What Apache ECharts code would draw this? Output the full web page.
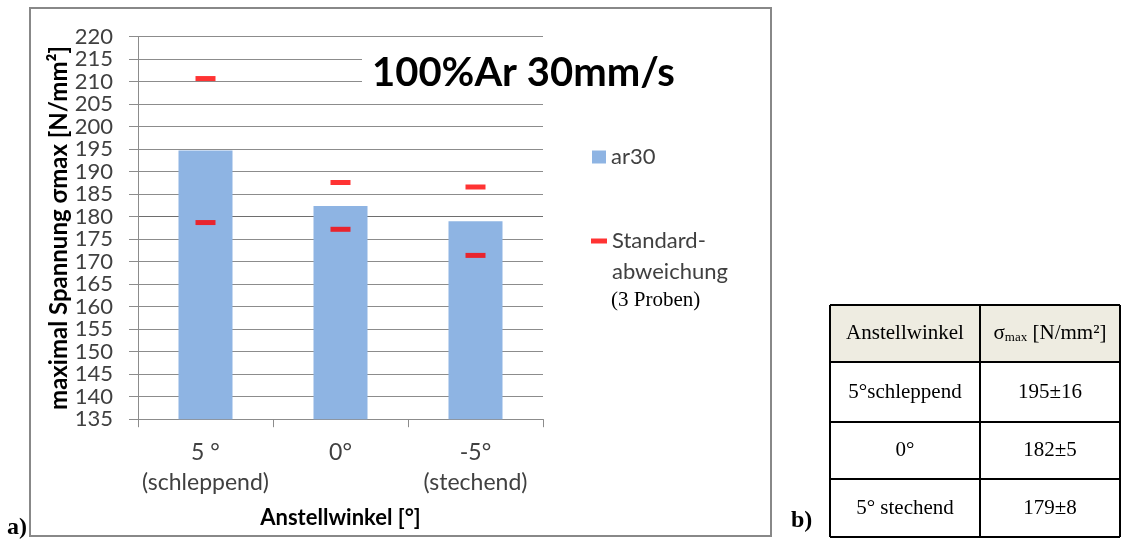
<!DOCTYPE html>
<html>
<head>
<meta charset="utf-8">
<script src="https://cdn.jsdelivr.net/npm/echarts@6/dist/echarts.min.js"></script>
<style>
  html, body { margin: 0; padding: 0; background: #fff; }
  #chart { width: 1121px; height: 540px; }
</style>
</head>
<body>
<div id="chart"></div>
<script>
// Anstellwinkel categories and measured maximum stress (mean of 3 samples)
const categories = ['5 °\n(schleppend)', '0°', '-5°\n(stechend)'];
const meanValues = [194.7, 182.4, 179.0];
const stdDevs = [16.0, 5.2, 7.6];

// value axis range
const yMin = 135;
const yMax = 220;
const yStep = 5;

// summary table
const tableHeader = ['Anstellwinkel', 'σmax [N/mm²]'];
const tableLabels = ['5°schleppend', '0°', '5° stechend'];

const textFont = 'Lato, "Open Sans", sans-serif';
const serifFont = '"Liberation Serif", "DejaVu Serif", serif';

// red dashes at mean ± standard deviation
const errorPoints = [];
meanValues.forEach(function (m, i) {
  errorPoints.push([i, +(m + stdDevs[i]).toFixed(2)]);
  errorPoints.push([i, +(m - stdDevs[i]).toFixed(2)]);
});

// grid line colours; the 180 line is drawn darker
const lineCount = Math.round((yMax - yMin) / yStep) + 1;
const splitColors = [];
for (let k = 0; k < lineCount; k++) {
  splitColors.push(yMin + k * yStep === 180 ? '#6e6e6e' : '#8c8c8c');
}

// table graphic
const tX = 830, tRight = 1120, tMid = 980;
const rowEdges = [305, 362, 422, 479, 537];
const tableEls = [];
tableEls.push({ type: 'rect', shape: { x: tX, y: rowEdges[0], width: tRight - tX, height: rowEdges[1] - rowEdges[0] },
  style: { fill: '#EEECE1' } });
for (let r = 0; r < rowEdges.length; r++) {
  tableEls.push({ type: 'line', shape: { x1: tX, y1: rowEdges[r], x2: tRight, y2: rowEdges[r] },
    style: { stroke: '#000', lineWidth: 2 } });
}
[tX, tMid, tRight].forEach(function (x) {
  tableEls.push({ type: 'line', shape: { x1: x, y1: rowEdges[0], x2: x, y2: rowEdges[rowEdges.length - 1] },
    style: { stroke: '#000', lineWidth: 2 } });
});
const c1 = (tX + tMid) / 2, c2 = (tMid + tRight) / 2;
function rowMid(r) { return (rowEdges[r] + rowEdges[r + 1]) / 2; }
tableEls.push({ type: 'text', x: c1, y: rowMid(0),
  style: { text: tableHeader[0], font: '21px ' + serifFont, fill: '#000', align: 'center', verticalAlign: 'middle' } });
tableEls.push({ type: 'text', x: c2, y: rowMid(0),
  style: {
    text: '{a|σ}{b|max}{a| [N/mm²]}', align: 'center', verticalAlign: 'middle',
    rich: {
      a: { fontFamily: serifFont, fontSize: 21, fill: '#000', lineHeight: 24 },
      b: { fontFamily: serifFont, fontSize: 13, fill: '#000', lineHeight: 24, padding: [8, 0, 0, 0] }
    }
  } });
tableLabels.forEach(function (lab, i) {
  tableEls.push({ type: 'text', x: c1, y: rowMid(i + 1),
    style: { text: lab, font: '21px ' + serifFont, fill: '#000', align: 'center', verticalAlign: 'middle' } });
  tableEls.push({ type: 'text', x: c2, y: rowMid(i + 1),
    style: { text: Math.round(meanValues[i]) + '±' + Math.round(stdDevs[i]),
      font: '21px ' + serifFont, fill: '#000', align: 'center', verticalAlign: 'middle' } });
});

const chart = echarts.init(document.getElementById('chart'), null, { renderer: 'canvas' });

chart.setOption({
  backgroundColor: '#fff',
  animation: false,
  title: {
    text: '100%Ar 30mm/s',
    left: 362,
    top: 46,
    padding: [5, 10, 5, 10],
    backgroundColor: '#fff',
    textStyle: { fontFamily: textFont, fontSize: 40, fontWeight: 'bold', color: '#000', lineHeight: 44 }
  },
  legend: [
    {
      data: [{ name: 'ar30', icon: 'rect' }],
      left: 592, top: 144, padding: 0,
      itemWidth: 14, itemHeight: 13, itemGap: 0,
      textStyle: { fontFamily: textFont, fontSize: 22, color: '#404040', lineHeight: 26 }
    },
    {
      data: [{ name: 'Standardabweichung', icon: 'rect' }],
      left: 591, top: 228, padding: 0,
      itemWidth: 16, itemHeight: 5, itemGap: 0,
      formatter: function () { return 'Standard-'; },
      textStyle: { fontFamily: textFont, fontSize: 22, color: '#404040', lineHeight: 26 }
    }
  ],
  grid: { left: 138, right: 1121 - 543, top: 36.7, bottom: 540 - 419.2, containLabel: false },
  xAxis: {
    type: 'category',
    data: categories,
    boundaryGap: true,
    name: 'Anstellwinkel [°]',
    nameLocation: 'middle',
    nameGap: 88,
    nameTextStyle: { fontFamily: textFont, fontSize: 22, fontWeight: 'bold', color: '#000' },
    axisLine: { lineStyle: { color: '#8c8c8c', width: 1 } },
    axisTick: { show: true, length: 8, inside: false, lineStyle: { color: '#8c8c8c' } },
    axisLabel: { fontFamily: textFont, fontSize: 23, color: '#404040', lineHeight: 30, margin: 18, interval: 0 },
    splitLine: { show: false }
  },
  yAxis: {
    type: 'value',
    min: yMin, max: yMax, interval: yStep,
    name: 'maximal Spannung σmax [N/mm²]',
    nameLocation: 'middle',
    nameGap: 67,
    nameTextStyle: { fontFamily: textFont, fontSize: 24, fontWeight: 'bold', color: '#000' },
    axisLine: { show: true, lineStyle: { color: '#8c8c8c', width: 1 } },
    axisTick: { show: true, length: 9, lineStyle: { color: '#8c8c8c' } },
    axisLabel: { fontFamily: textFont, fontSize: 22, color: '#404040', margin: 25 },
    splitLine: { show: true, lineStyle: { color: splitColors, width: 1 } }
  },
  series: [
    {
      name: 'ar30',
      type: 'bar',
      data: meanValues,
      barWidth: '40%',
      itemStyle: { color: '#8EB4E3' },
      z: 2
    },
    {
      name: 'Standardabweichung',
      type: 'scatter',
      data: errorPoints,
      symbol: 'rect',
      symbolSize: [20, 5],
      itemStyle: { color: '#FF0000' },
      z: 3
    }
  ],
  graphic: [
    { type: 'rect', shape: { x: 30, y: 8, width: 741, height: 528 },
      style: { fill: null, stroke: '#888', lineWidth: 2 }, z: -1, silent: true },
    { type: 'text', x: 612, y: 272,
      style: { text: 'abweichung', font: '22px ' + textFont, fill: '#404040', verticalAlign: 'middle' } },
    { type: 'text', x: 611, y: 300,
      style: { text: '(3 Proben)', font: '21px ' + serifFont, fill: '#000', verticalAlign: 'middle' } },
    { type: 'text', x: 7, y: 528,
      style: { text: 'a)', font: 'bold 24px ' + serifFont, fill: '#000', verticalAlign: 'middle' } },
    { type: 'text', x: 791, y: 521,
      style: { text: 'b)', font: 'bold 24px ' + serifFont, fill: '#000', verticalAlign: 'middle' } },
    { type: 'group', children: tableEls }
  ]
});
</script>
</body>
</html>
